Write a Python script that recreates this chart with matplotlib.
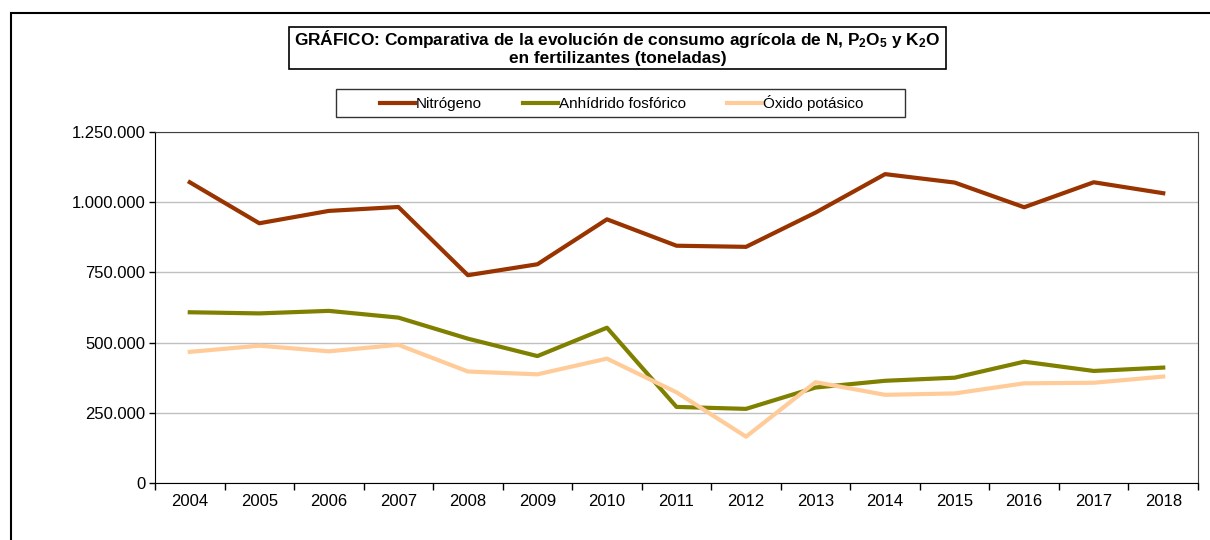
import matplotlib
matplotlib.use('Agg')
import matplotlib.pyplot as plt
from matplotlib.patches import Rectangle
from matplotlib.ticker import FuncFormatter, FixedLocator

plt.rcParams['font.family'] = ['Liberation Sans', 'DejaVu Sans']
plt.rcParams['mathtext.fontset'] = 'custom'
plt.rcParams['mathtext.rm'] = 'Liberation Sans'
plt.rcParams['mathtext.bf'] = 'Liberation Sans:bold'

years = ['2004', '2005', '2006', '2007', '2008', '2009', '2010', '2011',
         '2012', '2013', '2014', '2015', '2016', '2017', '2018']
nitrogeno = [1071000, 925000, 969000, 983000, 740000, 779000, 939000, 845000,
             841000, 963000, 1100000, 1070000, 982000, 1071000, 1032000]
fosforico = [608000, 604000, 613000, 589000, 514000, 452000, 553000, 271000,
             264000, 340000, 364000, 375000, 432000, 399000, 411000]
potasico = [467000, 489000, 469000, 492000, 397000, 387000, 443000, 323000,
            165000, 359000, 314000, 319000, 355000, 357000, 379000]

W, H = 1210, 540
fig = plt.figure(figsize=(W / 100, H / 100), dpi=100)

# outer chart border (continues past right/bottom edge)
fig.patches.append(Rectangle((11 / W, -0.1), 1.2, (H - 13) / H + 0.1,
                             transform=fig.transFigure, fill=False,
                             edgecolor='black', linewidth=1.5))

ax = fig.add_axes([155 / W, (H - 483) / H, (1198 - 155) / W, (483 - 132) / H])

x = [i + 0.5 for i in range(len(years))]
ax.plot(x, nitrogeno, color='#993300', linewidth=3, label='Nitrógeno')
ax.plot(x, fosforico, color='#808000', linewidth=3, label='Anhídrido fosfórico')
ax.plot(x, potasico, color='#FFCC99', linewidth=3, label='Óxido potásico')

ax.set_xlim(0, len(years))
ax.set_ylim(0, 1250000)
ax.set_yticks(range(0, 1250001, 250000))
ax.yaxis.set_major_formatter(FuncFormatter(lambda v, p: f'{int(v):,}'.replace(',', '.')))
ax.grid(True, axis='y', color='#c0c0c0', linewidth=1)
ax.set_axisbelow(True)

# category boundaries as ticks, labels centred between them
ax.xaxis.set_major_locator(FixedLocator(range(len(years) + 1)))
ax.xaxis.set_major_formatter(FuncFormatter(lambda v, p: ''))
ax.xaxis.set_minor_locator(FixedLocator(x))
ax.set_xticklabels(years, minor=True)
ax.tick_params(axis='x', which='minor', length=0, labelsize=12, pad=8)
ax.tick_params(axis='x', which='major', length=5, direction='out', width=1)
ax.tick_params(axis='y', length=4, direction='out', width=1, labelsize=12, pad=3)

for s in ['left', 'bottom']:
    ax.spines[s].set_color('black')
for s in ['top', 'right']:
    ax.spines[s].set_color('#404040')

# title box
fig.patches.append(Rectangle((289 / W, 1 - 69 / H), (946 - 289) / W, 42 / H,
                             transform=fig.transFigure, fill=False,
                             edgecolor='black', linewidth=1.2))
fig.text(617.5 / W, 1 - 39 / H,
         r'GRÁFICO: Comparativa de la evolución de consumo agrícola de N, $\mathbf{P_2O_5}$ y $\mathbf{K_2O}$',
         ha='center', va='center', fontsize=12.4, fontweight='bold')
fig.text(617.5 / W, 1 - 58 / H, 'en fertilizantes (toneladas)',
         ha='center', va='center', fontsize=12.4, fontweight='bold')

# legend box drawn separately so the inner padding matches
fig.patches.append(Rectangle((336 / W, 1 - 117 / H), (905 - 336) / W, 28 / H,
                             transform=fig.transFigure, fill=False,
                             edgecolor='#333333', linewidth=1.0))
leg = ax.legend(loc='center', bbox_to_anchor=(621.5 / W, 1 - 103 / H),
                bbox_transform=fig.transFigure, ncol=3, fontsize=11,
                frameon=False, handlelength=2.3, handletextpad=0.05,
                columnspacing=2.7, borderpad=0, borderaxespad=0)

fig.savefig('out.png', dpi=100)
